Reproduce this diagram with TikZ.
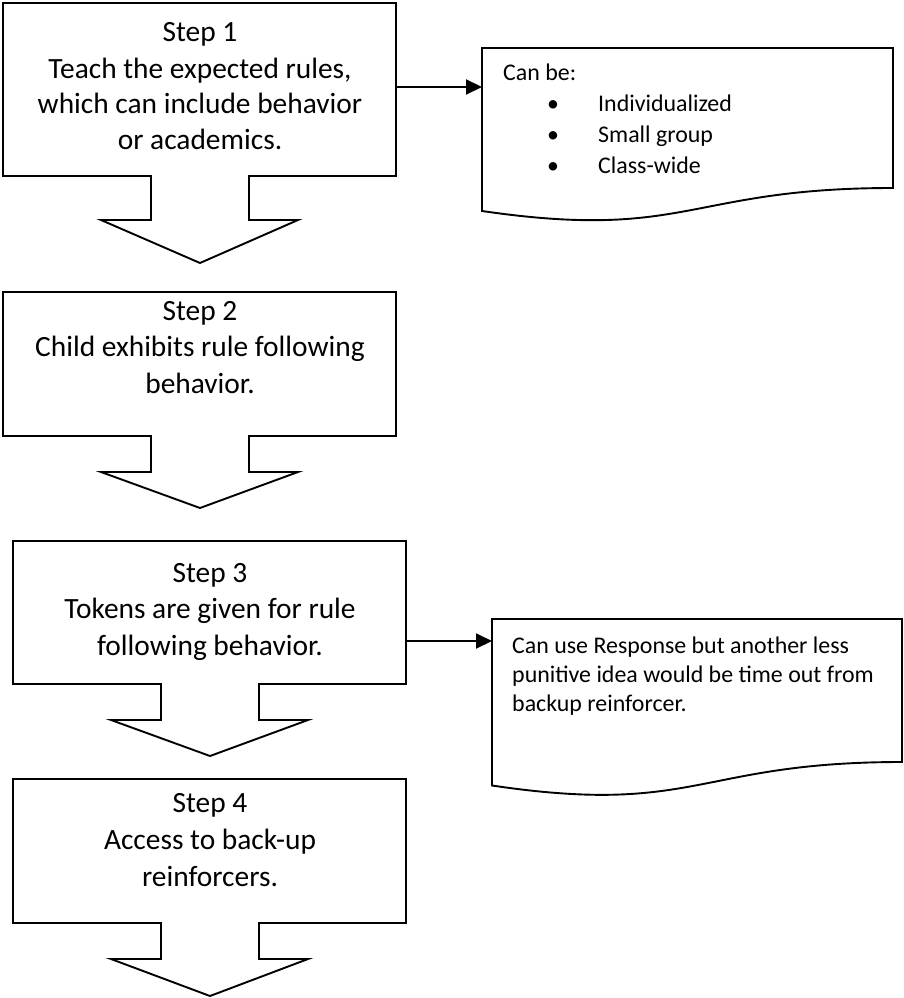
\documentclass[tikz,border=0pt]{standalone}
\usepackage{fontspec}
\setmainfont{Carlito}
\usetikzlibrary{arrows.meta}
\begin{document}
\begin{tikzpicture}[x=1pt,y=-1pt,
  shp/.style={draw=black, line width=1.9pt, line join=miter},
  steptxt/.style={anchor=base, inner sep=0pt, font=\fontsize{29.4}{36}\selectfont},
  notetxt/.style={anchor=base west, inner sep=0pt, font=\fontsize{23.9}{29}\selectfont},
  bul/.style={anchor=base, inner sep=0pt, font=\fontsize{23.9}{29}\selectfont},
  conn/.style={draw=black, line width=1.9pt, -{Triangle[length=16pt,width=15pt]}}]
\useasboundingbox (0,0) rectangle (903,998);

% Step 1
\draw[shp] (3,3) -- (396,3) -- (396,176) -- (249,176) -- (249,220) -- (298,220)
  -- (200,263) -- (101,220) -- (151,220) -- (151,176) -- (3,176) -- cycle;
\node[steptxt] (s1a) at (200,41.5) {Step 1};
\node[steptxt] (s1b) at (200,78) {Teach the expected rules,};
\node[steptxt] (s1c) at (200,113.5) {which can include behavior};
\node[steptxt] (s1d) at (200,149) {or academics.};

% Step 2
\draw[shp] (3,292) -- (396,292) -- (396,436) -- (249,436) -- (249,472) -- (298,472)
  -- (200,508) -- (101,472) -- (151,472) -- (151,436) -- (3,436) -- cycle;
\node[steptxt] (s2a) at (200,320) {Step 2};
\node[steptxt] (s2b) at (200,356.5) {Child exhibits rule following};
\node[steptxt] (s2c) at (200,393) {behavior.};

% Step 3
\draw[shp] (13,541) -- (406,541) -- (406,684) -- (259,684) -- (259,720) -- (308,720)
  -- (210,756) -- (111,720) -- (161,720) -- (161,684) -- (13,684) -- cycle;
\node[steptxt] (s3a) at (210,582) {Step 3};
\node[steptxt] (s3b) at (210,618.5) {Tokens are given for rule};
\node[steptxt] (s3c) at (210,655) {following behavior.};

% Step 4
\draw[shp] (13,779) -- (406,779) -- (406,923) -- (259,923) -- (259,959) -- (308,959)
  -- (210,996) -- (111,959) -- (161,959) -- (161,923) -- (13,923) -- cycle;
\node[steptxt] (s4a) at (210,812) {Step 4};
\node[steptxt] (s4b) at (210,849) {Access to back-up};
\node[steptxt] (s4c) at (210,886) {reinforcers.};

% Document 1
\draw[shp] (482,48) -- (893,48) -- (893,188)
  .. controls (687.5,188) and (687.5,241) .. (482,211) -- cycle;
\node[notetxt] (d1a) at (503,80.5) {Can be:};
\node[bul] (b1) at (553,111.5) {\textbullet};
\node[bul] (b2) at (553,142) {\textbullet};
\node[bul] (b3) at (553,173) {\textbullet};
\node[notetxt] (d1b) at (598,111.5) {Individualized};
\node[notetxt] (d1c) at (598,142) {Small group};
\node[notetxt] (d1d) at (598,173) {Class-wide};

% Document 2
\draw[shp] (492,619) -- (902,619) -- (902,762)
  .. controls (697,762) and (697,816) .. (492,785.5) -- cycle;
\node[notetxt] (d2a) at (512,653) {Can use Response but another less};
\node[notetxt] (d2b) at (512,682) {punitive idea would be time out from};
\node[notetxt] (d2c) at (512,711) {backup reinforcer.};

% connectors
\coordinate (s1e) at (396,87);
\coordinate (d1w) at (482,87);
\coordinate (s3e) at (406,641);
\coordinate (d2w) at (492,641);
\draw[conn] (s1e) -- (d1w);
\draw[conn] (s3e) -- (d2w);
\end{tikzpicture}
\end{document}
